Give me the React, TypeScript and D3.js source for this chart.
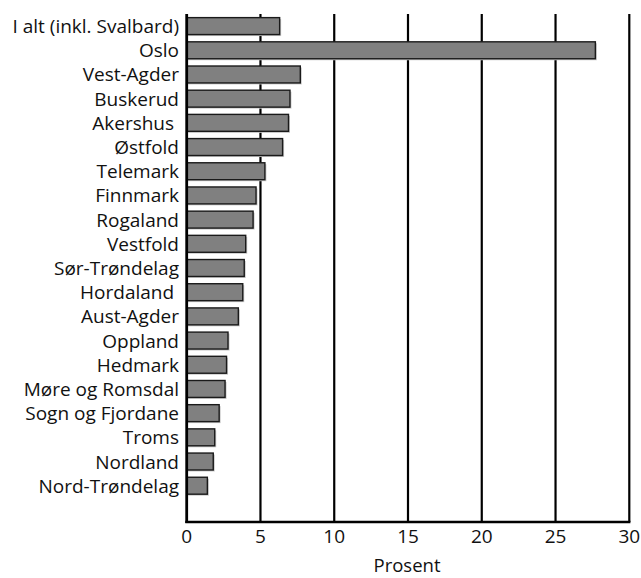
import React from "react";
import * as d3 from "d3";

const categories = [
  "I alt (inkl. Svalbard)",
  "Oslo",
  "Vest-Agder",
  "Buskerud",
  "Akershus ",
  "Østfold",
  "Telemark",
  "Finnmark",
  "Rogaland",
  "Vestfold",
  "Sør-Trøndelag",
  "Hordaland ",
  "Aust-Agder",
  "Oppland",
  "Hedmark",
  "Møre og Romsdal",
  "Sogn og Fjordane",
  "Troms",
  "Nordland",
  "Nord-Trøndelag",
];
const values = [6.3, 27.7, 7.7, 7.0, 6.9, 6.5, 5.3, 4.7, 4.5, 4.0, 3.9, 3.8, 3.5, 2.8, 2.7, 2.6, 2.2, 1.9, 1.8, 1.4];
const xTicks = [0, 5, 10, 15, 20, 25, 30];
const xTitle = "Prosent";

export default function App() {
  const W = 641, H = 578;
  const left = 186.7, right = 629.3, top = 14, bottom = 522;
  const x = d3.scaleLinear().domain([0, 30]).range([left, right]);
  const slots = [...categories, "__empty__"];
  const y = d3.scaleBand<string>().domain(slots).range([top, bottom]).paddingInner(0.3).paddingOuter(0.15);
  const font = "'Open Sans', 'Noto Sans', sans-serif";
  const fs = 19;
  return (
    <svg width={W} height={H} style={{ position: "absolute", left: 0, top: 0, background: "#fff" }}>
      {xTicks.slice(1).map((t) => (
        <line key={t} x1={x(t)} x2={x(t)} y1={top} y2={bottom} stroke="#000" strokeWidth={2.2} />
      ))}
      {categories.map((c, i) => (
        <g key={c}>
          <rect x={x(0) + 1.5} y={(y(c) as number) + 1.5} width={x(values[i]) - x(0)} height={y.bandwidth()} fill="#c8c8c8" />
          <rect x={x(0)} y={y(c)} width={x(values[i]) - x(0)} height={y.bandwidth()} fill="#808080" stroke="#1a1a1a" strokeWidth={1.4} />
          <text
            x={179}
            y={(y(c) as number) + y.bandwidth() / 2}
            textAnchor="end"
            dominantBaseline="central"
            fontFamily={font}
            fontSize={fs}
            fill="#111"
            style={{ whiteSpace: "pre" }}
          >
            {c}
          </text>
        </g>
      ))}
      <line x1={x(0)} x2={x(0)} y1={top} y2={bottom + 1} stroke="#000" strokeWidth={2.8} />
      <line x1={x(0) - 1.4} x2={x(30) + 1.1} y1={bottom} y2={bottom} stroke="#000" strokeWidth={2.5} />
      {xTicks.map((t) => (
        <text key={t} x={x(t)} y={536} textAnchor="middle" dominantBaseline="central" fontFamily={font} fontSize={fs} fill="#111">
          {t}
        </text>
      ))}
      <text x={407} y={572} textAnchor="middle" fontFamily={font} fontSize={fs - 0.5} fill="#111">
        {xTitle}
      </text>
    </svg>
  );
}
